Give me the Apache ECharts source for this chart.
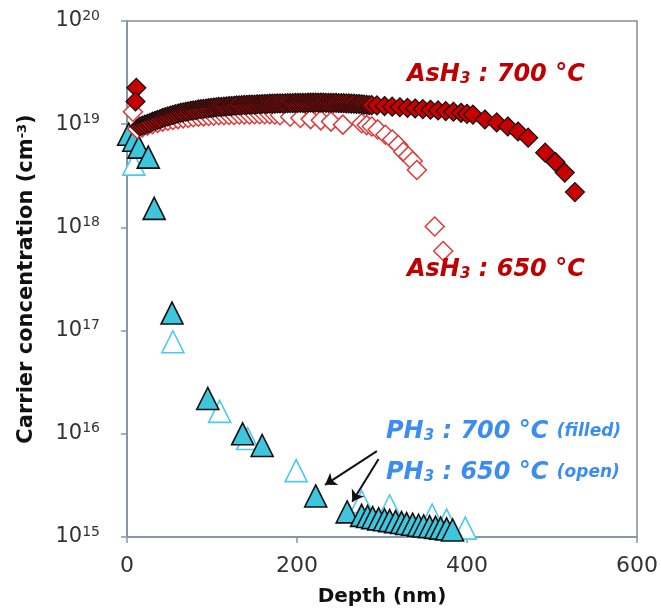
<!DOCTYPE html>
<html>
<head>
<meta charset="utf-8">
<script src="https://cdn.jsdelivr.net/npm/echarts@6/dist/echarts.min.js"></script>
<style>
html,body{margin:0;padding:0;background:#fff;}
#chart{width:661px;height:612px;}
</style>
</head>
<body>
<div id="chart"></div>
<script>
// AsH3 700 °C (filled diamonds)
const ash700Depth = [11,10,15,18,21,24,27,30,33,36,39,42,45,48,51,54,57,60,63,66,69,72,75,78,81,84,87,90,93,96,99,102,105,108,111,114,117,120,123,126,129,132,135,138,141,144,147,150,153,156,159,162,165,168,171,174,177,180,183,186,189,192,195,198,201,204,207,210,213,216,219,222,225,228,231,234,237,240,243,246,249,252,255,258,261,264,267,270,273,276,279,282,285,288,294,303,312,321,330,339,348,357,366,375,384,393,400,407,421,435,448,460,472,492,504,515,527];
const ash700Conc = [2.25e19,1.66e19,0.95e19,0.97e19,0.99e19,1.01e19,1.03e19,1.06e19,1.08e19,1.10e19,1.12e19,1.15e19,1.17e19,1.19e19,1.21e19,1.23e19,1.25e19,1.27e19,1.29e19,1.30e19,1.32e19,1.33e19,1.35e19,1.36e19,1.37e19,1.39e19,1.40e19,1.41e19,1.42e19,1.43e19,1.44e19,1.45e19,1.46e19,1.47e19,1.47e19,1.48e19,1.49e19,1.50e19,1.50e19,1.51e19,1.52e19,1.52e19,1.53e19,1.54e19,1.54e19,1.55e19,1.55e19,1.55e19,1.56e19,1.56e19,1.57e19,1.57e19,1.57e19,1.58e19,1.58e19,1.58e19,1.59e19,1.59e19,1.59e19,1.59e19,1.60e19,1.60e19,1.60e19,1.61e19,1.61e19,1.61e19,1.61e19,1.61e19,1.62e19,1.62e19,1.62e19,1.62e19,1.62e19,1.62e19,1.62e19,1.61e19,1.61e19,1.61e19,1.61e19,1.61e19,1.60e19,1.60e19,1.60e19,1.59e19,1.59e19,1.58e19,1.58e19,1.57e19,1.57e19,1.56e19,1.55e19,1.54e19,1.53e19,1.53e19,1.52e19,1.50e19,1.48e19,1.46e19,1.44e19,1.42e19,1.40e19,1.38e19,1.36e19,1.34e19,1.32e19,1.29e19,1.26e19,1.24e19,1.11e19,1.04e19,0.95e19,0.85e19,0.74e19,0.53e19,0.43e19,0.34e19,0.22e19];

// AsH3 650 °C (open diamonds)
const ash650Depth = [7,12,18,24,30,36,42,48,54,60,66,72,78,84,90,96,102,108,114,120,126,132,138,144,150,156,162,168,174,180,192,204,216,228,240,254,276,282,288,295,304,312,319,325,331,336,341,362,372];
const ash650Conc = [1.32e19,0.90e19,0.93e19,0.97e19,1.00e19,1.03e19,1.06e19,1.08e19,1.10e19,1.12e19,1.14e19,1.15e19,1.17e19,1.18e19,1.19e19,1.20e19,1.21e19,1.22e19,1.22e19,1.23e19,1.23e19,1.24e19,1.24e19,1.24e19,1.25e19,1.25e19,1.25e19,1.25e19,1.24e19,1.22e19,1.18e19,1.15e19,1.12e19,1.09e19,1.06e19,0.99e19,1.02e19,0.98e19,0.95e19,0.89e19,0.79e19,0.71e19,0.63e19,0.54e19,0.49e19,0.44e19,0.36e19,1.02e18,5.9e17];

// PH3 700 °C (filled triangles)
const ph700Depth = [2,8,14,25,32,53,95,136,159,222,259,276,283,289,296,303,309,316,323,329,336,343,349,356,363,369,376,383];
const ph700Conc = [8.0e18,7.0e18,6.0e18,4.8e18,1.53e18,1.48e17,2.2e16,1.0e16,7.7e15,2.5e15,1.75e15,1.62e15,1.58e15,1.54e15,1.50e15,1.47e15,1.44e15,1.41e15,1.38e15,1.35e15,1.33e15,1.30e15,1.28e15,1.26e15,1.24e15,1.22e15,1.20e15,1.17e15];

// PH3 650 °C (open triangles)
const ph650Depth = [8,54,109,142,199,276,309,359,376,398];
const ph650Conc = [4.1e18,7.8e16,1.65e16,9.0e15,4.4e15,2.2e15,2.0e15,1.63e15,1.46e15,1.22e15];

// arrows (annotation) start/end in data coords
const arrowStart = [[294, 6.8e15],[296, 5.7e15]];
const arrowEnd = [[233, 3.2e15],[265, 2.2e15]];

const xTicks = [0, 200, 400, 600];

function zip(a, b){ return a.map((v,i)=>[v, b[i]]); }

const FONT = 'DejaVu Sans';
const chart = echarts.init(document.getElementById('chart'));

const red = '#c00000';
const blue = '#3b8eef';

function annRich(color, big, small){
  return {
    m: {fontFamily: FONT, fontSize: big, fontWeight: 'bold', fontStyle: 'italic', color: color},
    sub: {fontFamily: FONT, fontSize: 15, fontWeight: 'bold', fontStyle: 'italic', color: color, verticalAlign: 'bottom'},
    p: {fontFamily: FONT, fontSize: small, fontWeight: 'bold', fontStyle: 'italic', color: color}
  };
}

chart.setOption({
  animation: false,
  grid: {left: 127, right: 24, top: 21, bottom: 73, show: true, borderColor: '#8c8c8c', borderWidth: 1.5},
  xAxis: {
    type: 'value', min: xTicks[0], max: xTicks[xTicks.length-1], interval: 200,
    name: 'Depth (nm)', nameLocation: 'middle', nameGap: 50,
    nameTextStyle: {fontFamily: FONT, fontWeight: 'bold', fontSize: 20, color: '#111'},
    axisLine: {show: true, lineStyle: {color: '#8797a6', width: 2}},
    axisTick: {show: true, length: 6, lineStyle: {color: '#8797a6', width: 1.5}},
    axisLabel: {fontFamily: FONT, fontSize: 22, color: '#333', margin: 18},
    splitLine: {show: false}
  },
  yAxis: {
    type: 'log', logBase: 10, min: 1e15, max: 1e20,
    name: 'Carrier concentration (cm{s|-3})', nameLocation: 'middle', nameGap: 90,
    nameTextStyle: {fontFamily: FONT, fontWeight: 'bold', fontSize: 21, color: '#111',
      rich: {s: {fontFamily: FONT, fontWeight: 'bold', fontSize: 13, color: '#111', verticalAlign: 'top'}}},
    axisLine: {show: true, lineStyle: {color: '#8797a6', width: 2}},
    axisTick: {show: true, length: 6, lineStyle: {color: '#8797a6', width: 1.5}},
    axisLabel: {
      margin: 27, color: '#333',
      formatter: function(v){ const e = Math.round(Math.log10(v)); return '{b|10}{s|' + e + '}'; },
      rich: {
        b: {fontFamily: FONT, fontSize: 21, color: '#333', lineHeight: 24},
        s: {fontFamily: FONT, fontSize: 14, color: '#333', verticalAlign: 'top', lineHeight: 24}
      }
    },
    splitLine: {show: false}
  },
  title: [
    {left: 407, top: 63, padding: 0, text: '{m|AsH}{sub|3}{m| : 700 °C}', textStyle: {rich: annRich(red, 24, 16)}},
    {left: 407, top: 258, padding: 0, text: '{m|AsH}{sub|3}{m| : 650 °C}', textStyle: {rich: annRich(red, 24, 16)}},
    {left: 386, top: 420, padding: 0, text: '{m|PH}{sub|3}{m| : 700 °C }{p|(filled)}', textStyle: {rich: annRich(blue, 24, 17)}},
    {left: 386, top: 461, padding: 0, text: '{m|PH}{sub|3}{m| : 650 °C }{p|(open)}', textStyle: {rich: annRich(blue, 24, 17)}}
  ],
  series: [
    {
      name: 'PH3 650', type: 'scatter', symbol: 'triangle', symbolSize: 22,
      data: zip(ph650Depth, ph650Conc),
      itemStyle: {color: '#ffffff', borderColor: '#4cc9ee', borderWidth: 1.6, opacity: 1},
      z: 2
    },
    {
      name: 'PH3 700', type: 'scatter', symbol: 'triangle', symbolSize: 22,
      data: zip(ph700Depth, ph700Conc),
      itemStyle: {color: '#3ec6dc', borderColor: '#111', borderWidth: 1.6, opacity: 1},
      z: 3,
      markLine: {
        silent: true, symbol: ['none', 'arrow'], symbolSize: 11,
        lineStyle: {color: '#111', width: 2, type: 'solid', opacity: 1},
        label: {show: false},
        data: arrowStart.map((s, i) => [{coord: s}, {coord: arrowEnd[i]}])
      }
    },
    {
      name: 'AsH3 650', type: 'scatter', symbol: 'diamond', symbolSize: 19,
      data: zip(ash650Depth, ash650Conc),
      itemStyle: {color: '#ffffff', borderColor: '#dc3a3a', borderWidth: 1.5, opacity: 1},
      z: 4
    },
    {
      name: 'AsH3 700', type: 'scatter', symbol: 'diamond', symbolSize: 19,
      data: zip(ash700Depth, ash700Conc),
      itemStyle: {color: '#c80000', borderColor: '#111', borderWidth: 1.2, opacity: 1},
      z: 5
    }
  ]
});
</script>
</body>
</html>
